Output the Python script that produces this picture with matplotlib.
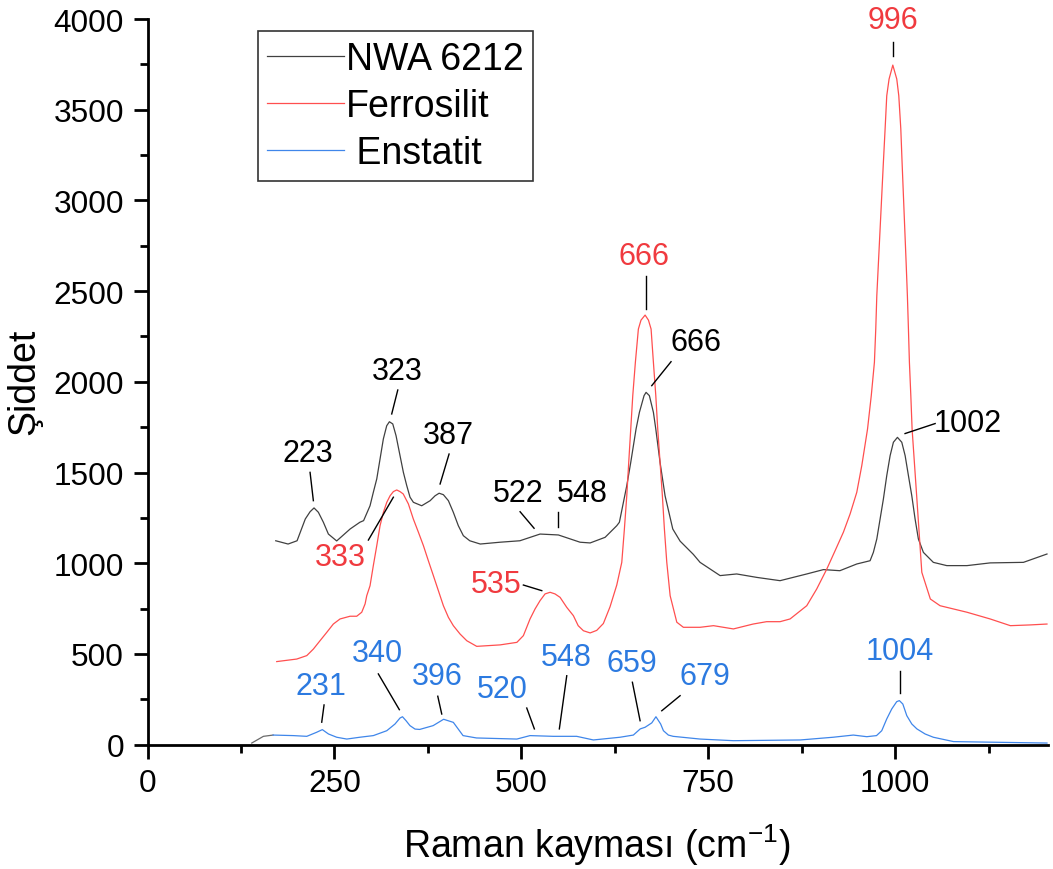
import matplotlib
matplotlib.use("Agg")
from matplotlib import pyplot as plt
from matplotlib.ticker import MultipleLocator

plt.rcParams['font.family'] = ['Liberation Sans', 'DejaVu Sans']
plt.rcParams['mathtext.fontset'] = 'custom'
plt.rcParams['mathtext.rm'] = 'Liberation Sans'
plt.rcParams['mathtext.default'] = 'regular'

# NWA 6212 spectrum
nwa_x = [171.5, 188, 200, 211, 217.4, 222.7, 228.5, 235.2, 241.9, 253, 271, 284, 289, 297.6,
         302, 306.6, 311, 315.4, 319.9, 323.5, 328, 332.4, 336.8, 342.2, 346.7, 351.1, 355.6,
         366.7, 378, 384.6, 390, 395.7, 402.4, 409, 415.7, 422.4, 431, 445, 471.5, 498, 525,
         549.5, 578.5, 592, 612, 627.6, 631.1, 641, 646.3, 653.4, 657.9, 664.1, 666.8, 671.2,
         676.6, 679.8, 685.5, 692.2, 702.5, 712.3, 730, 739, 765.8, 788, 815, 846, 881.7, 904,
         926, 948.6, 966.4, 970.8, 975.4, 979.8, 984.2, 988.7, 993.2, 997.6, 1003, 1008.8,
         1013.3, 1017.7, 1022.2, 1026.6, 1031, 1037.7, 1051, 1069, 1096, 1127, 1171.5, 1203]
nwa_y = [1124, 1106, 1124, 1244, 1284, 1305, 1281, 1226, 1161, 1123, 1189, 1226, 1235, 1317,
         1391, 1465, 1575, 1685, 1758, 1780, 1768, 1703, 1612, 1501, 1428, 1364, 1336,
         1317, 1345, 1372, 1386, 1378, 1345, 1281, 1207, 1152, 1124, 1106, 1116, 1124, 1161,
         1156, 1116, 1112, 1143, 1207, 1226, 1428, 1556, 1740, 1832, 1924, 1942, 1924,
         1832, 1740, 1556, 1372, 1189, 1122, 1049, 1005, 932, 941, 922, 904, 941, 965,
         959, 996, 1014, 1060, 1134, 1244, 1354, 1483, 1593, 1667, 1694, 1667,
         1593, 1483, 1372, 1244, 1134, 1060, 1005, 987, 987, 1002, 1005, 1051]

# Ferrosilit
fer_x = [172.8, 199.6, 213, 221.8, 230.7, 239.7, 248.5, 257.5, 270.9, 279.8, 286.5, 291, 293.2,
         297.6, 302, 306.6, 311, 315.5, 320, 324.4, 328.8, 333.3, 337.7, 342, 348.9, 355.5,
         362.3, 369, 375.6, 382.3, 389, 395.7, 402.4, 409, 418, 427, 440.3, 471.5, 494, 502.7,
         511.6, 518.3, 525, 531.7, 538.4, 545, 551.8, 560.7, 569.6, 576, 583, 592, 600.8,
         609.7, 618.6, 627.6, 634.3, 637.8, 641, 643.6, 646.3, 649, 652.5, 656.5, 660, 665.5,
         670, 673.5, 676.6, 679.8, 682.4, 685.5, 688.6, 691.3, 694.5, 699, 707.9, 716.7, 739,
         757, 783.6, 810, 828, 846, 859.4, 881.7, 895, 908.5, 919.6, 930.7, 939.7, 948.6,
         955.3, 963, 968, 972.2, 974, 975.4, 977.6, 979.8, 982, 984.2, 986.5, 988.7, 991.8,
         996.8, 1002.1, 1004.8, 1007.5, 1009.2, 1011, 1012.8, 1014.6, 1016.3, 1017.7, 1019,
         1020.9, 1022.6, 1029, 1035.6, 1047, 1060, 1096, 1127, 1154, 1180, 1203]
fer_y = [458, 472, 491, 527, 573, 619, 665, 693, 708, 708, 730, 776, 821,
         876, 987, 1097, 1207, 1281, 1336, 1372, 1395, 1404, 1395, 1382, 1327, 1244,
         1171, 1097, 1014, 932, 849, 766, 702, 656, 610, 573, 542, 550, 564, 601,
         693, 748, 794, 831, 840, 831, 812, 757, 711, 656, 628, 616, 630,
         668, 760, 880, 1005, 1189, 1372, 1556, 1740, 1924, 2108, 2291, 2340, 2368,
         2340, 2291, 2108, 1924, 1740, 1556, 1372, 1189, 1005, 821, 675, 647, 647,
         656, 638, 665, 678, 678, 693, 766, 858, 968, 1069, 1171, 1272, 1391,
         1538, 1740, 1924, 2108, 2291, 2475, 2659, 2842, 3026, 3210, 3394, 3577, 3669,
         3746, 3669, 3577, 3394, 3210, 3026, 2842, 2659, 2475, 2291, 2108,
         1924, 1740, 1354, 950, 803, 766, 730, 693, 656, 660, 665]

# Enstatit
ens_x = [139.4, 155, 168, 195, 213, 226, 233.8, 242, 253, 266.5, 284, 302, 320, 331, 337.7,
         341, 345.8, 351, 357.8, 364, 382, 396, 409, 422, 440, 494, 511.6, 542.8, 574, 596.3,
         632, 649.8, 659, 665.5, 674.4, 680, 686.3, 690, 696.6, 703, 739, 783.6, 873, 917, 944,
         962, 975, 982, 988.7, 995.4, 1002, 1005.6, 1010.2, 1015.5, 1022.2, 1029, 1040, 1051,
         1078, 1140, 1203]
ens_y = [9, 46, 53, 50, 46, 68, 83, 59, 41, 31, 41, 50, 77, 114, 147,
         154, 132, 105, 86, 84, 105, 140, 123, 50, 37, 31, 50, 46, 46, 26,
         41, 53, 87, 96, 120, 154, 114, 77, 53, 46, 31, 22, 26, 41, 53,
         44, 50, 77, 142, 197, 237, 243, 224, 160, 114, 87, 59, 41,
         17, 13, 9]

# peak labels
nwa_peaks = ['223', '323', '387', '522', '548', '666', '1002']
fer_peaks = ['333', '535', '666', '996']
ens_peaks = ['231', '340', '396', '520', '548', '659', '679', '1004']

nwa_txt = [(214, 1608), (334, 2062), (402, 1707), (496, 1387), (582, 1387), (734, 2222), (1097, 1773)]
nwa_lines = [((217.4, 1501), (221.8, 1345)), ((334.7, 1955), (326.6, 1823)),
             ((403.3, 1602), (391.3, 1437)), ((498.3, 1284), (517, 1193)),
             ((549.5, 1281), (549.5, 1198)), ((700.2, 2111), (674.4, 1979)),
             ((1053.4, 1770), (1013.2, 1715))]
fer_txt = [(258.4, 1035), (466.2, 886), (664.1, 2691), (997.2, 3994)]
fer_lines = [((295.4, 1128), (328.8, 1364)), ((502.7, 880), (527.3, 849)),
             ((666.4, 2585), (666.4, 2402)), ((997.6, 3871), (997.6, 3798))]
ens_txt = [(232.1, 325), (307.7, 505), (387.2, 376), (473.8, 308), (559.8, 486),
           (648.1, 450), (745.7, 376), (1006.6, 514)]
ens_lines = [((236.1, 219), (233, 124)), ((308.7, 390), (336.8, 193)),
             ((388.2, 267), (393.5, 169)), ((507.2, 202), (517.4, 87)),
             ((560.7, 380), (550.8, 87)), ((648.5, 344), (658.8, 132)),
             ((712.3, 270), (687.8, 187)), ((1006.6, 408), (1006.6, 285))]

c_nwa = '#404040'
c_fer = '#ff4f4f'
c_ens = '#3f86ea'
t_fer = '#f03a3f'
t_ens = '#2c7ae0'

fig = plt.figure(figsize=(10.53, 8.70), dpi=100)
ax = fig.add_axes([0.1401, 0.1429, 0.8556, 0.8341])

ax.plot(nwa_x, nwa_y, color=c_nwa, lw=0.9, label='NWA 6212')
ax.plot(fer_x, fer_y, color=c_fer, lw=0.9, label='Ferrosilit')
ax.plot(ens_x[:3], ens_y[:3], color='#6a6a6a', lw=0.9)
ax.plot(ens_x[2:], ens_y[2:], color=c_ens, lw=0.9, label=' Enstatit')

for s, (tx, ty), (p1, p2) in zip(nwa_peaks, nwa_txt, nwa_lines):
    ax.text(tx, ty, s, color='black', fontsize=22, ha='center', va='center')
    ax.plot([p1[0], p2[0]], [p1[1], p2[1]], color='black', lw=1)
for s, (tx, ty), (p1, p2) in zip(fer_peaks, fer_txt, fer_lines):
    ax.text(tx, ty, s, color=t_fer, fontsize=22, ha='center', va='center')
    ax.plot([p1[0], p2[0]], [p1[1], p2[1]], color='black', lw=1)
for s, (tx, ty), (p1, p2) in zip(ens_peaks, ens_txt, ens_lines):
    ax.text(tx, ty, s, color=t_ens, fontsize=22, ha='center', va='center')
    ax.plot([p1[0], p2[0]], [p1[1], p2[1]], color='black', lw=1)

ax.set_xlim(0, 1205)
ax.set_ylim(0, 4000)
ax.spines['top'].set_visible(False)
ax.spines['right'].set_visible(False)
ax.spines['left'].set_linewidth(2)
ax.spines['bottom'].set_linewidth(2)
ax.xaxis.set_major_locator(MultipleLocator(250))
ax.xaxis.set_minor_locator(MultipleLocator(125))
ax.yaxis.set_major_locator(MultipleLocator(500))
ax.yaxis.set_minor_locator(MultipleLocator(250))
ax.tick_params(which='major', direction='out', length=10, width=2, labelsize=22.8, pad=7)
ax.tick_params(which='minor', direction='out', length=5.5, width=2)

ax.set_xlabel('Raman kayması (cm$^{-1}$)', fontsize=27)
ax.set_ylabel('Şiddet', fontsize=27)
ax.xaxis.set_label_coords(0.499, -0.106)
ax.yaxis.set_label_coords(-0.117, 0.501)

leg = ax.legend(loc='upper left', bbox_to_anchor=(0.1223, 0.983), borderaxespad=0,
                fontsize=27, handlelength=2.05, handletextpad=0.05, labelspacing=0.3,
                borderpad=0.25, fancybox=False, framealpha=1)
leg.get_frame().set_edgecolor('#333333')
leg.get_frame().set_linewidth(1.2)

fig.savefig('out.png', dpi=100)
